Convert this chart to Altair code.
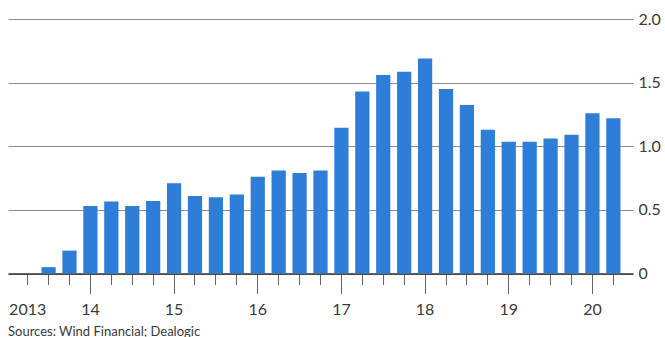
import altair as alt
import pandas as pd

# Quarterly values, 2013 Q2 to 2020 Q2
quarters = [
    "2013 Q2", "2013 Q3", "2013 Q4",
    "2014 Q1", "2014 Q2", "2014 Q3", "2014 Q4",
    "2015 Q1", "2015 Q2", "2015 Q3", "2015 Q4",
    "2016 Q1", "2016 Q2", "2016 Q3", "2016 Q4",
    "2017 Q1", "2017 Q2", "2017 Q3", "2017 Q4",
    "2018 Q1", "2018 Q2", "2018 Q3", "2018 Q4",
    "2019 Q1", "2019 Q2", "2019 Q3", "2019 Q4",
    "2020 Q1", "2020 Q2",
]
values = [
    0.0, 0.05, 0.18,
    0.53, 0.565, 0.53, 0.57,
    0.71, 0.61, 0.60, 0.62,
    0.76, 0.81, 0.79, 0.81,
    1.145, 1.43, 1.56, 1.585,
    1.69, 1.45, 1.325, 1.13,
    1.035, 1.035, 1.06, 1.09,
    1.26, 1.22,
]

# Year labels shown under the axis
label_at = ["2013 Q2", "2014 Q1", "2015 Q1", "2016 Q1", "2017 Q1", "2018 Q1", "2019 Q1", "2020 Q1"]
label_text = ["2013", "14", "15", "16", "17", "18", "19", "20"]
y_ticks = [0, 0.5, 1.0, 1.5, 2.0]

df = pd.DataFrame({"quarter": quarters, "value": values})

label_expr = " : ".join(
    f"datum.value == '{q}' ? '{t}'" for q, t in zip(label_at, label_text)
) + " : ''"

FONT = "Lato"
TEXT = "#3a3a3a"

# Year starts get a longer tick; label padding compensates so all labels share one line
is_q1 = "indexof(datum.value, 'Q1') >= 0"

bars = alt.Chart(df).mark_bar(color="#2e7dd8").encode(
    x=alt.X(
        "quarter:O",
        sort=quarters,
        title=None,
        scale=alt.Scale(paddingInner=0.32, paddingOuter=0.6),
        axis=alt.Axis(
            labelExpr=label_expr,
            labelAngle=0,
            labelFont=FONT,
            labelFontSize=16,
            labelColor=TEXT,
            labelPadding={"condition": {"test": is_q1, "value": 16}, "value": 25},
            labelBaseline="middle",
            domainColor="#333333",
            domainWidth=1.5,
            tickColor="#666666",
            tickWidth=1,
            tickSize={"condition": {"test": is_q1, "value": 20}, "value": 11},
            grid=False,
        ),
    ),
    y=alt.Y(
        "value:Q",
        title=None,
        scale=alt.Scale(domain=[0, 2.0]),
        axis=alt.Axis(
            orient="right",
            values=y_ticks,
            labelExpr="datum.value == 0 ? '0' : format(datum.value, '.1f')",
            labelFont=FONT,
            labelFontSize=16,
            labelColor=TEXT,
            labelPadding=5,
            ticks=False,
            domain=False,
            grid=True,
            gridColor="#8c8c8c",
            gridWidth=1,
        ),
    ),
)

chart = bars.properties(
    width=625,
    height=254.5,
    autosize=alt.AutoSizeParams(type="none"),
    padding={"left": 8, "top": 19, "right": 32, "bottom": 63},
    title=alt.TitleParams(
        "Sources: Wind Financial; Dealogic",
        orient="bottom",
        anchor="start",
        font=FONT,
        fontSize=13,
        fontWeight="normal",
        color=TEXT,
        offset=8,
    ),
).configure_view(stroke=None)

chart.save("out.html", embed_options={"renderer": "svg", "actions": False})
